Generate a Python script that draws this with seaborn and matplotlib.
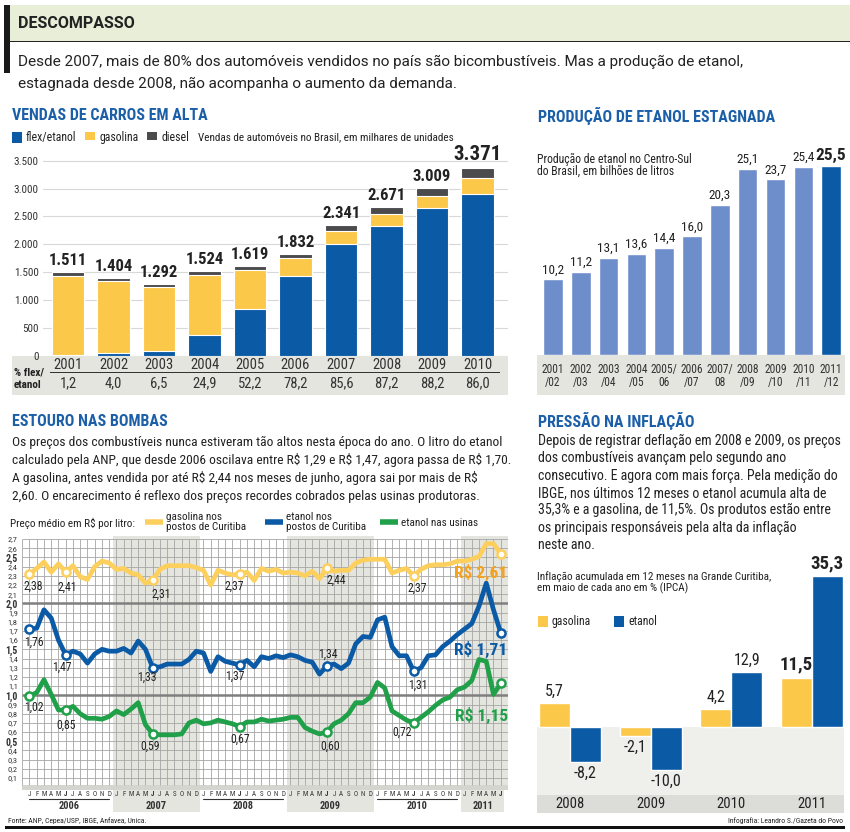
import numpy as np
import pandas as pd
import seaborn as sns
import matplotlib.pyplot as plt
from matplotlib import font_manager
from matplotlib.lines import Line2D
from matplotlib.patches import Rectangle
from matplotlib.transforms import blended_transform_factory

sns.set_style("white")

installed = {f.name for f in font_manager.fontManager.ttflist}
NARROW = next((f for f in ["Liberation Sans Narrow", "Roboto Condensed"] if f in installed), "Liberation Sans")
plt.rcParams["font.family"] = [NARROW, "DejaVu Sans"]
plt.rcParams["text.parse_math"] = False  # "R$" aparece varias vezes nos textos

# --- vendas de carros (milhares de unidades)
anos_vendas = ["2001", "2002", "2003", "2004", "2005", "2006", "2007", "2008", "2009", "2010"]
flex = [18, 56, 84, 379, 845, 1433, 2004, 2329, 2654, 2899]
gasolina = [1418, 1290, 1158, 1077, 699, 314, 237, 207, 205, 287]
diesel = [75, 58, 50, 68, 75, 85, 100, 135, 150, 185]
totais = ["1.511", "1.404", "1.292", "1.524", "1.619", "1.832", "2.341", "2.671", "3.009", "3.371"]
pct_flex = ["1,2", "4,0", "6,5", "24,9", "52,2", "78,2", "85,6", "87,2", "88,2", "86,0"]

# --- producao de etanol (bilhoes de litros)
safras = ["2001\n/02", "2002\n/03", "2003\n/04", "2004\n/05", "2005/\n06", "2006\n/07",
          "2007/\n08", "2008\n/09", "2009\n/10", "2010\n/11", "2011\n/12"]
producao = [10.2, 11.2, 13.1, 13.6, 14.4, 16.0, 20.3, 25.1, 23.7, 25.4, 25.5]

# --- precos medios mensais, jan/2006 a jun/2011 (R$ por litro)
meses = "JFMAMJJASOND" * 5 + "JFMAMJ"
anos_precos = ["2006", "2007", "2008", "2009", "2010", "2011"]
preco_gasolina = [2.32, 2.38, 2.45, 2.34, 2.43, 2.34, 2.41, 2.29, 2.26, 2.40, 2.46, 2.44,
                  2.37, 2.38, 2.33, 2.31, 2.22, 2.25, 2.37, 2.41, 2.41, 2.41, 2.41, 2.39,
                  2.36, 2.20, 2.36, 2.33, 2.31, 2.32, 2.34, 2.25, 2.38, 2.35, 2.37, 2.33,
                  2.34, 2.33, 2.30, 2.35, 2.27, 2.38, 2.35, 2.36, 2.36, 2.44, 2.47, 2.48,
                  2.48, 2.48, 2.33, 2.36, 2.38, 2.30, 2.37, 2.41, 2.42, 2.42, 2.43, 2.46,
                  2.46, 2.48, 2.51, 2.65, 2.65, 2.54]
preco_etanol = [1.72, 1.73, 1.93, 1.84, 1.60, 1.44, 1.48, 1.45, 1.35, 1.45, 1.50, 1.48,
                1.48, 1.51, 1.46, 1.59, 1.50, 1.30, 1.31, 1.34, 1.34, 1.34, 1.39, 1.48,
                1.46, 1.26, 1.42, 1.37, 1.35, 1.33, 1.38, 1.31, 1.42, 1.40, 1.43, 1.41,
                1.44, 1.42, 1.38, 1.36, 1.23, 1.32, 1.34, 1.29, 1.35, 1.56, 1.64, 1.63,
                1.82, 1.85, 1.53, 1.43, 1.43, 1.26, 1.30, 1.43, 1.44, 1.53, 1.59, 1.66,
                1.72, 1.78, 1.97, 2.22, 1.93, 1.68]
preco_usina = [0.99, 1.03, 1.17, 1.01, 0.84, 0.84, 0.88, 0.80, 0.75, 0.75, 0.74, 0.77,
               0.83, 0.79, 0.85, 0.92, 0.68, 0.58, 0.57, 0.57, 0.57, 0.58, 0.70, 0.73,
               0.69, 0.70, 0.73, 0.71, 0.69, 0.66, 0.71, 0.71, 0.74, 0.72, 0.73, 0.74,
               0.76, 0.76, 0.65, 0.61, 0.58, 0.60, 0.69, 0.73, 0.80, 0.92, 0.92, 0.98,
               1.14, 1.08, 0.83, 0.78, 0.73, 0.70, 0.76, 0.82, 0.89, 0.95, 0.98, 1.06,
               1.09, 1.16, 1.39, 1.37, 1.01, 1.13]
destaques = [0, 5, 17, 29, 41, 53]
rot_gasolina = ["2,38", "2,41", "2,31", "2,37", "2,44", "2,37"]
rot_etanol = ["1,76", "1,47", "1,33", "1,37", "1,34", "1,31"]
rot_usina = ["1,02", "0,85", "0,59", "0,67", "0,60", "0,72"]
final_gasolina, final_etanol, final_usina = "R$ 2,61", "R$ 1,71", "R$ 1,15"

# --- inflacao acumulada em 12 meses (%)
anos_inflacao = ["2008", "2009", "2010", "2011"]
infl_gasolina = [5.7, -2.1, 4.2, 11.5]
infl_etanol = [-8.2, -10.0, 12.9, 35.3]

AZUL = "#0b5aa6"
AMARELO = "#fcc84a"
AMARELO_LINHA = "#fdd05e"
LARANJA = "#f4a11d"
CINZA_D = "#4b4b4d"
AZUL_CLARO = "#6e8ecb"
VERDE = "#21a04a"
TITULO = "#1c5fa9"
FAIXA = "#e5e5e0"
TEXTO = "#222222"

W, H = 850, 832
fig = plt.figure(figsize=(W / 100, H / 100), dpi=100)


def area(x0, y0, x1, y1):
    return fig.add_axes([x0 / W, 1 - y1 / H, (x1 - x0) / W, (y1 - y0) / H])


def txt(x, y, s, **kw):
    kw.setdefault("va", "center")
    kw.setdefault("color", TEXTO)
    return fig.text(x / W, 1 - y / H, s, **kw)


def rect(x0, y0, x1, y1, color, z=-5):
    fig.add_artist(Rectangle((x0 / W, 1 - y1 / H), (x1 - x0) / W, (y1 - y0) / H,
                             transform=fig.transFigure, facecolor=color, edgecolor="none", zorder=z))


def seg(x0, x1, y, color, lw):
    fig.add_artist(Line2D([x0 / W, x1 / W], [1 - y / H] * 2, transform=fig.transFigure,
                          color=color, lw=lw, solid_capstyle="butt"))


# cabecalho
rect(10, 5, 850, 41, "#e8eed8")
rect(10, 41, 850, 42.3, "#222222", z=-4)
rect(4, 5, 10, 73, "#1a1a1a")
txt(18, 23, "DESCOMPASSO", family="Roboto", weight="bold", size=11.5)
txt(18, 62, "Desde 2007, mais de 80% dos automóveis vendidos no país são bicombustíveis. "
            "Mas a produção de etanol,", family="Roboto", size=11)
txt(18, 84, "estagnada desde 2008, não acompanha o aumento da demanda.", family="Roboto", size=11)

# ---------------- vendas de carros
txt(12, 116, "VENDAS DE CARROS EM ALTA", color=TITULO, weight="bold", size=11.5)
for x0, cor, rotulo in [(12, AZUL, "flex/etanol"), (85, AMARELO, "gasolina"), (147, CINZA_D, "diesel")]:
    rect(x0, 132, x0 + 10, 143, cor)
    txt(x0 + 14, 137.5, rotulo, size=8.5)
txt(198, 137.5, "Vendas de automóveis no Brasil, em milhares de unidades", size=8)

ax1 = area(43, 140, 508, 356)
pilha_total = [f + g + d for f, g, d in zip(flex, gasolina, diesel)]
pilha_meio = [f + g for f, g in zip(flex, gasolina)]
for alturas, cor in [(pilha_total, CINZA_D), (pilha_meio, AMARELO), (flex, AZUL)]:
    sns.barplot(x=anos_vendas, y=alturas, color=cor, saturation=1, width=0.72, errorbar=None,
                edgecolor="white", linewidth=0.8, zorder=3, ax=ax1)
ax1.yaxis.grid(True, color="#d8d8d8", lw=0.8)
ax1.set_axisbelow(True)
ax1.set_ylim(0, 3870)
ax1.set_xlim(-0.55, 9.67)
ax1.set_yticks(range(0, 3501, 500))
ax1.set_yticklabels([f"{v:,}".replace(",", ".") for v in range(0, 3501, 500)], fontsize=8, color="#333333")
ax1.set_xticks([])
ax1.tick_params(length=0, pad=3)
ax1.set_xlabel("")
ax1.set_ylabel("")
sns.despine(ax=ax1, left=True, bottom=True)
for i, (alt, rot) in enumerate(zip(pilha_total, totais)):
    grande = i == len(totais) - 1
    ax1.annotate(rot, (i, alt), xytext=(0, 4), textcoords="offset pixels", ha="center", va="bottom",
                 fontsize=15 if grande else 12, weight="bold", color=TEXTO)

rect(12, 356, 508, 395, FAIXA)
rect(50, 372, 500, 373.3, "#333333", z=-4)
txt(14, 373, "% flex/", size=8, weight="bold")
txt(14, 385, "etanol", size=8, weight="bold")
for i, (ano, p) in enumerate(zip(anos_vendas, pct_flex)):
    ax1.annotate(ano, (i, 0), xycoords=("data", "axes fraction"), xytext=(0, -9),
                 textcoords="offset pixels", ha="center", va="center", fontsize=10.5, color="#333333")
    ax1.annotate(p, (i, 0), xycoords=("data", "axes fraction"), xytext=(0, -27),
                 textcoords="offset pixels", ha="center", va="center", fontsize=10.5, color="#333333")

# ---------------- producao de etanol
txt(538, 116, "PRODUÇÃO DE ETANOL ESTAGNADA", color=TITULO, weight="bold", size=11.5)
txt(537, 159, "Produção de etanol no Centro-Sul", size=8.5)
txt(537, 171, "do Brasil, em bilhões de litros", size=8.5)
ax2 = area(537, 140, 845, 355)
cores = [AZUL_CLARO] * (len(safras) - 1) + [AZUL]
sns.barplot(x=safras, y=producao, hue=safras, palette=cores, legend=False, saturation=1,
            width=0.7, errorbar=None, ax=ax2)
ax2.set_ylim(0, 29)
ax2.set_xlim(-0.575, 10.5)
ax2.axis("off")
rect(537, 355, 845, 395, FAIXA)
for i, (s, v) in enumerate(zip(safras, producao)):
    ultimo = i == len(producao) - 1
    ax2.annotate(f"{v:.1f}".replace(".", ","), (i, v), xytext=(0, 3), textcoords="offset pixels",
                 ha="center", va="bottom", fontsize=12.5 if ultimo else 9.5,
                 weight="bold" if ultimo else "normal", color=TEXTO)
    ax2.annotate(s, (i, 0), xycoords=("data", "axes fraction"), xytext=(0, -21),
                 textcoords="offset pixels", ha="center", va="center", fontsize=8.3,
                 linespacing=1.0, color="#333333")

# ---------------- precos nas bombas
txt(12, 421, "ESTOURO NAS BOMBAS", color=TITULO, weight="bold", size=11.5)
texto_bombas = [
    "Os preços dos combustíveis nunca estiveram tão altos nesta época do ano. O litro do etanol",
    "calculado pela ANP, que desde 2006 oscilava entre R$ 1,29 e R$ 1,47, agora passa de R$ 1,70.",
    "A gasolina, antes vendida por até R$ 2,44 nos meses de junho, agora sai por mais de R$",
    "2,60. O encarecimento é reflexo dos preços recordes cobrados pelas usinas produtoras.",
]
for k, linha in enumerate(texto_bombas):
    txt(12, 442 + 18.2 * k, linha, size=9.7)

txt(10, 523, "Preço médio em R$ por litro:", size=8)
seg(145, 163, 522, AMARELO_LINHA, 4)
txt(166, 522, "gasolina nos\npostos de Curitiba", size=8, linespacing=0.95)
seg(265, 283, 522, AZUL, 4)
txt(286, 522, "etanol nos\npostos de Curitiba", size=8, linespacing=0.95)
seg(380, 398, 522, VERDE, 4)
txt(401, 523, "etanol nas usinas", size=8)

ax3 = area(22, 536, 508, 790)
n_meses = len(preco_gasolina)
series = [("gasolina", preco_gasolina, AMARELO_LINHA), ("etanol", preco_etanol, AZUL),
          ("usina", preco_usina, VERDE)]
precos = pd.concat([pd.DataFrame({"mes": np.arange(n_meses), "preco": v, "serie": nome})
                    for nome, v, _ in series], ignore_index=True)

for a, b in [(11.5, 23.5), (35.5, 47.5), (59.5, 66)]:
    ax3.axvspan(a, b, color=FAIXA, zorder=0, lw=0)
ax3.axhspan(-0.03, 0.025, color="#d5d5d0", zorder=0, lw=0)
ax3.vlines(np.arange(-1, 67), 0.025, 2.7, color="#a5a5a5", lw=0.6, zorder=1)
niveis = np.round(np.arange(0.1, 2.71, 0.1), 1)
fortes = [n in (1.0, 2.0) for n in niveis]
ax3.hlines(niveis, -1.03, 66, colors=["#7f7f7f" if f else "#a5a5a5" for f in fortes],
           linewidths=[1.8 if f else 0.6 for f in fortes], zorder=1)
sns.lineplot(data=precos, x="mes", y="preco", hue="serie",
             palette={nome: cor for nome, _, cor in series}, linewidth=3.4, legend=False,
             zorder=3, ax=ax3)

pontos = destaques + [n_meses - 1]
rotulos = {"gasolina": rot_gasolina, "etanol": rot_etanol, "usina": rot_usina}
desloc = {"gasolina": [(4, -12), (2, -15), (9, -14), (-5, -12), (10, -12), (4, -12)],
          "etanol": [(4, -13), (-4, -12), (-6, -10), (-5, -11), (1, 12), (4, -14)],
          "usina": [(4, -11), (0, -15), (-3, -12), (0, -13), (3, -14), (-12, -9)]}
finais = {"gasolina": (final_gasolina, LARANJA, (7, -19)),
          "etanol": (final_etanol, AZUL, (7, -17)),
          "usina": (final_usina, VERDE, (7, -32))}
for nome, valores, cor in series:
    sns.scatterplot(x=pontos, y=[valores[m] for m in pontos], s=34, color="white", edgecolor=cor,
                    linewidth=1.8, zorder=4, legend=False, ax=ax3)
    for m, rot, (dx, dy) in zip(destaques, rotulos[nome], desloc[nome]):
        ax3.annotate(rot, (m, valores[m]), xytext=(dx, dy), textcoords="offset pixels",
                     ha="center", va="center", fontsize=8.5, color=TEXTO, zorder=5)
    rot, cor_r, off = finais[nome]
    ax3.annotate(rot, (n_meses - 1, valores[-1]), xytext=off, textcoords="offset pixels",
                 ha="right", va="center", fontsize=12.5, weight="bold", color=cor_r, zorder=5)

ax3.set_yticks(niveis)
ax3.set_yticklabels([f"{n:.1f}".replace(".", ",") for n in niveis], fontsize=6, color="#333333")
for lab, n in zip(ax3.get_yticklabels(), niveis):
    if round(n * 10) % 5 == 0:
        lab.set_fontweight("bold")
        lab.set_fontsize(7)
ax3.tick_params(axis="y", length=0, pad=3)
ax3.set_xticks([])
ax3.set_xlabel("")
ax3.set_ylabel("")
sns.despine(ax=ax3, left=True, bottom=True)
ax3.set_xlim(-1.03, 66)
ax3.set_ylim(-0.03, 2.733)

trans = blended_transform_factory(ax3.transData, fig.transFigure)
for m, letra in enumerate(meses):
    ax3.text(m, 1 - 794 / H, letra, transform=trans, ha="center", va="center", fontsize=5,
             weight="bold" if m % 12 == 5 else "normal", color="#333333", clip_on=False)
for k, ano in enumerate(anos_precos):
    ini, fim = 12 * k, min(12 * k + 11, n_meses - 1)
    if k % 2:
        a, b = ini - 0.5, min(fim + 0.5, 66)
        fig.add_artist(Rectangle((a, 1 - 812 / H), b - a, 22 / H, transform=trans,
                                 facecolor=FAIXA, edgecolor="none", zorder=-5))
        centro = (a + b) / 2
    else:
        fig.add_artist(Line2D([ini, fim], [1 - 799 / H] * 2, transform=trans, color="#333333", lw=0.8))
        centro = (ini + fim) / 2
    ax3.text(centro, 1 - 806 / H, ano, transform=trans, ha="center", va="center", fontsize=7.5,
             weight="bold", color="#333333", clip_on=False)

# ---------------- inflacao
txt(538, 421, "PRESSÃO NA INFLAÇÃO", color=TITULO, weight="bold", size=11.5)
texto_inflacao = [
    "Depois de registrar deflação em 2008 e 2009, os preços",
    "dos combustíveis avançam pelo segundo ano",
    "consecutivo. E agora com mais força. Pela medição do",
    "IBGE, nos últimos 12 meses o etanol acumula alta de",
    "35,3% e a gasolina, de 11,5%. Os produtos estão entre",
    "os principais responsáveis pela alta da inflação",
    "neste ano.",
]
for k, linha in enumerate(texto_inflacao):
    txt(538, 441 + 17.3 * k, linha, size=10)
txt(537, 577, "Inflação acumulada em 12 meses na Grande Curitiba,", size=8)
txt(537, 588, "em maio de cada ano em % (IPCA)", size=8)
rect(538, 616, 548, 627, AMARELO)
txt(552, 621.5, "gasolina", size=8.5)
rect(614, 616, 624, 627, AZUL)
txt(628, 621.5, "etanol", size=8.5)

ax4 = area(537, 555, 844, 795)
infl = pd.DataFrame({"ano": anos_inflacao * 2, "valor": infl_gasolina + infl_etanol,
                     "tipo": ["gasolina"] * len(anos_inflacao) + ["etanol"] * len(anos_inflacao)})
ax4.axhspan(-15.9, 0, color="#efefeb", zorder=0, lw=0)
sns.barplot(data=infl, x="ano", y="valor", hue="tipo", palette=[AMARELO, AZUL], saturation=1,
            width=0.77, errorbar=None, legend=False, zorder=2, ax=ax4)
for cont, valores in zip(ax4.containers, [infl_gasolina, infl_etanol]):
    textos = ax4.bar_label(cont, labels=[f"{v:.1f}".replace(".", ",") for v in valores],
                           padding=3, fontsize=11.5, color=TEXTO)
    textos[-1].set_fontsize(13.5)
    textos[-1].set_fontweight("bold")
ax4.set_ylim(-15.9, 40.3)
ax4.set_xlim(-0.41, 3.4)
ax4.axis("off")
rect(537, 795, 844, 813, "#dcdcd8")
for i, ano in enumerate(anos_inflacao):
    ax4.annotate(ano, (i, 0), xycoords=("data", "axes fraction"), xytext=(0, -9),
                 textcoords="offset pixels", ha="center", va="center", fontsize=10.5, color=TEXTO)

# rodape
txt(8, 821, "Fonte: ANP, Cepea/USP, IBGE, Anfavea, Unica.", size=5.5)
txt(843, 821, "Infografia: Leandro S./Gazeta do Povo", size=5.5, ha="right")
rect(5, 826, 845, 829, "#111111")

fig.savefig("out.png", dpi=100)
